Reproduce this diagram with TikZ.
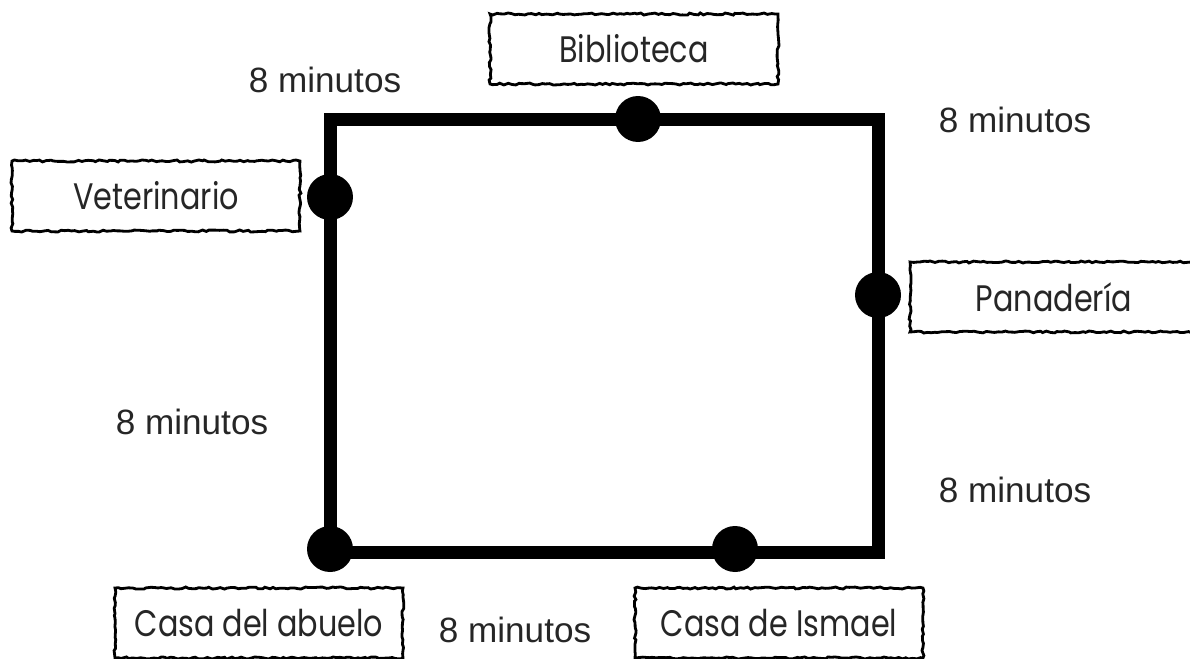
\documentclass[tikz,border=0pt]{standalone}
\usepackage{fontspec}
\setmainfont{Poppins}[FakeStretch=0.82]
\newfontfamily\minfont{Liberation Sans}
\usepackage{tikz}
\usetikzlibrary{positioning,decorations.pathmorphing}

\begin{document}
\begin{tikzpicture}[
  x=0.02cm, y=-0.02cm,
  place/.style={draw, line width=1.6pt, decorate,
    decoration={random steps, segment length=2pt, amplitude=0.6pt},
    minimum width=5.76cm, minimum height=1.40cm, inner sep=0pt,
    font=\fontsize{21}{24}\selectfont, text=black!85},
  stop/.style={circle, fill=black, minimum size=0.92cm, inner sep=0pt},
  time/.style={font=\minfont\fontsize{20}{24}\selectfont, text=black!85},
  street/.style={line width=0.26cm, line join=miter},
]
\useasboundingbox (0,0) rectangle (1190,659);

% corners of the walk
\coordinate (nw) at (330,119);
\coordinate (ne) at (878,119);
\coordinate (se) at (878,552);
\coordinate (sw) at (330,552);
\draw[street] (nw) -- (ne) -- (se) -- (sw) -- cycle;

% places on the walk
\node[stop] (bib) at (638,119) {};
\node[stop] (vet) at (330,197) {};
\node[stop] (pan) at (878,295) {};
\node[stop] (abu) at (330,549) {};
\node[stop] (ism) at (735,549) {};

\node[place] (bibbox) at (634,49) {Biblioteca};
\node[place] (vetbox) at (156,196) {Veterinario};
\node[place] (panbox) at (1054,297) {Panadería};
\node[place] (abubox) at (259,623) {Casa del abuelo};
\node[place] (ismbox) at (779,623) {Casa de Ismael};

% times
\node[time] (t1) at (325,80) {8 minutos};
\node[time] (t2) at (1015,120) {8 minutos};
\node[time] (t3) at (192,422) {8 minutos};
\node[time] (t4) at (1015,490) {8 minutos};
\node[time] (t5) at (515,630) {8 minutos};
\end{tikzpicture}
\end{document}
